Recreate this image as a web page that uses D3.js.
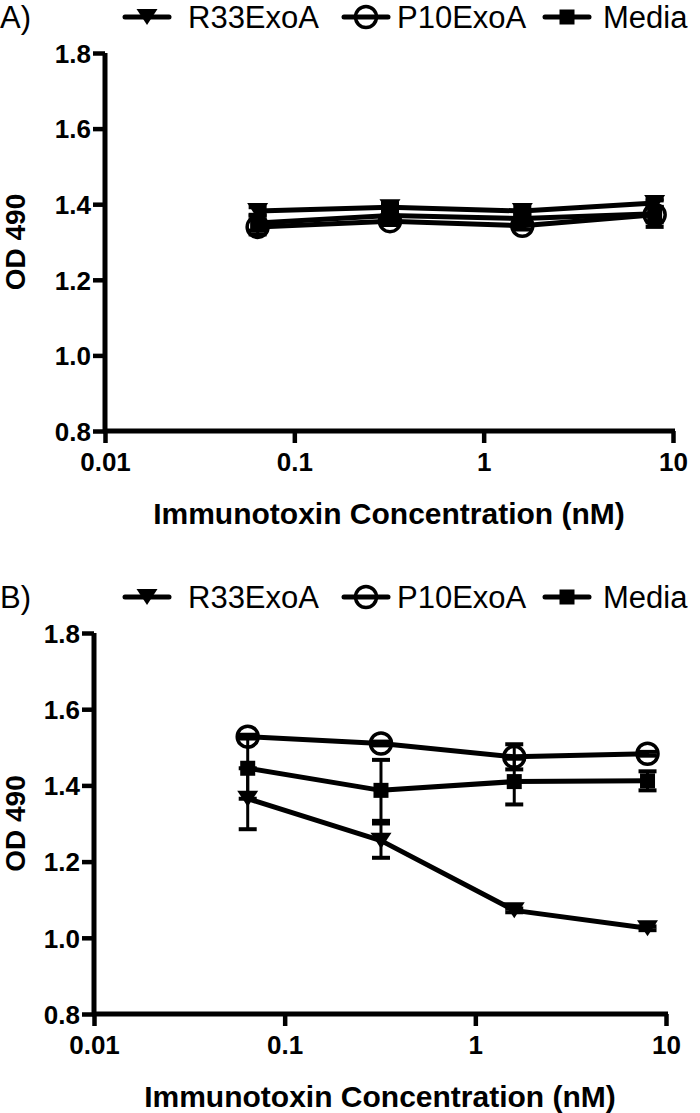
<!DOCTYPE html>
<html><head><meta charset="utf-8">
<script src="https://cdn.jsdelivr.net/npm/d3@7"></script>
<style>body{margin:0;background:#fff}svg{display:block}text{font-family:"Liberation Sans",Arial,sans-serif;fill:#000}</style>
</head><body>
<script>
const concentrations = [0.064, 0.32, 1.6, 8];
const xTicks = [0.01, 0.1, 1, 10];
const xTickLabels = ["0.01", "0.1", "1", "10"];
const yTicks = [0.8, 1.0, 1.2, 1.4, 1.6, 1.8];
const seriesNames = ["R33ExoA", "P10ExoA", "Media"];
const seriesMarkers = ["triangle", "circle", "square"];

const panelA_R33 = [1.382, 1.392, 1.382, 1.403];
const panelA_R33_err = [0.01, 0.01, 0.01, 0.01];
const panelA_P10 = [1.340, 1.355, 1.343, 1.372];
const panelA_P10_err = [0.02, 0.01, 0.01, 0.02];
const panelA_Media = [1.350, 1.370, 1.362, 1.375];
const panelA_Media_err = [0.02, 0.01, 0.01, 0.035];

const panelB_R33 = [1.365, 1.255, 1.072, 1.025];
const panelB_R33_err = [0.08, 0.045, 0.005, 0.005];
const panelB_P10 = [1.528, 1.510, 1.475, 1.483];
const panelB_P10_err = [0.005, 0.005, 0.033, 0.005];
const panelB_Media = [1.445, 1.387, 1.410, 1.412];
const panelB_Media_err = [0.08, 0.08, 0.06, 0.025];

const W = 700, H = 1113;
const svg = d3.select("body").append("svg").attr("width", W).attr("height", H);

const panels = [
  {label: "A)", top: 0, xr: [105, 673], yr: [431, 53],
   data: [[panelA_R33, panelA_R33_err], [panelA_P10, panelA_P10_err], [panelA_Media, panelA_Media_err]]},
  {label: "B)", top: 580, xr: [94, 666], yr: [1014, 633],
   data: [[panelB_R33, panelB_R33_err], [panelB_P10, panelB_P10_err], [panelB_Media, panelB_Media_err]]}
];

function drawMarker(g, type, cx, cy) {
  if (type === "triangle") {
    const w = 21, h = 16;
    g.append("path").attr("d", `M${cx - w/2},${cy - h/2}L${cx + w/2},${cy - h/2}L${cx},${cy + h/2}Z`).attr("fill", "#000");
  } else if (type === "circle") {
    g.append("circle").attr("cx", cx).attr("cy", cy).attr("r", 10.5).attr("fill", "none").attr("stroke", "#000").attr("stroke-width", 3.5);
  } else {
    g.append("rect").attr("x", cx - 7.5).attr("y", cy - 7.5).attr("width", 15).attr("height", 15).attr("fill", "#000");
  }
}

panels.forEach(p => {
  const g = svg.append("g");
  const x = d3.scaleLog().domain([0.01, 10]).range(p.xr);
  const y = d3.scaleLinear().domain([0.8, 1.8]).range(p.yr);
  const legY = p.top + 17;

  g.append("text").attr("x", 0).attr("y", legY + 11).attr("font-size", 31).text(p.label);

  const legSym = [147, 366, 567];
  const legText = [188, 397, 603];
  seriesNames.forEach((n, i) => {
    g.append("line").attr("x1", legSym[i] - 22).attr("x2", legSym[i] + 22).attr("y1", legY).attr("y2", legY)
      .attr("stroke", "#000").attr("stroke-width", 5).attr("stroke-linecap", "round");
    drawMarker(g, seriesMarkers[i], legSym[i], legY);
    g.append("text").attr("x", legText[i]).attr("y", legY + 11).attr("font-size", 31).text(n);
  });

  const yAxis = d3.axisLeft(y).tickValues(yTicks).tickFormat(d3.format(".1f")).tickSize(12).tickPadding(2);
  const ya = g.append("g").attr("transform", `translate(${p.xr[0]},0)`).call(yAxis);
  ya.select(".domain").attr("d", `M0,${p.yr[1]}V${p.yr[0] + 2}`).attr("stroke", "#000").attr("stroke-width", 5);
  ya.selectAll(".tick line").attr("stroke", "#000").attr("stroke-width", 4.5);
  ya.selectAll(".tick text").attr("font-size", 26).attr("font-weight", "bold").attr("font-family", "'Liberation Sans',Arial,sans-serif").attr("dy", "0.36em");

  const xAxis = d3.axisBottom(x).tickValues(xTicks).tickFormat((d, i) => xTickLabels[i]).tickSize(12).tickPadding(10);
  const xa = g.append("g").attr("transform", `translate(0,${p.yr[0]})`).call(xAxis);
  xa.select(".domain").attr("d", `M${p.xr[0] - 2},0H${p.xr[1] + 2}`).attr("stroke", "#000").attr("stroke-width", 5);
  xa.selectAll(".tick line").attr("stroke", "#000").attr("stroke-width", 4.5);
  xa.selectAll(".tick text").attr("font-size", 26).attr("font-weight", "bold").attr("font-family", "'Liberation Sans',Arial,sans-serif");

  g.append("text").attr("x", (p.xr[0] + p.xr[1]) / 2).attr("y", p.yr[0] + 93).attr("text-anchor", "middle")
    .attr("font-size", 30).attr("font-weight", "bold").text("Immunotoxin Concentration (nM)");
  g.append("text").attr("transform", `translate(25,${(p.yr[0] + p.yr[1]) / 2}) rotate(-90)`).attr("text-anchor", "middle")
    .attr("font-size", 28).attr("font-weight", "bold").text("OD 490");

  const line = d3.line().x((d, i) => x(concentrations[i])).y(d => y(d));
  p.data.forEach(([vals]) => {
    g.append("path").attr("d", line(vals)).attr("fill", "none").attr("stroke", "#000").attr("stroke-width", 5).attr("stroke-linejoin", "round");
  });
  p.data.forEach(([vals, errs]) => {
    vals.forEach((v, i) => {
      const cx = x(concentrations[i]);
      const y1 = y(v - errs[i]), y2 = y(v + errs[i]);
      g.append("line").attr("x1", cx).attr("x2", cx).attr("y1", y1).attr("y2", y2).attr("stroke", "#000").attr("stroke-width", 3);
      [y1, y2].forEach(yy => g.append("line").attr("x1", cx - 9).attr("x2", cx + 9).attr("y1", yy).attr("y2", yy).attr("stroke", "#000").attr("stroke-width", 4));
    });
  });
  p.data.forEach(([vals], si) => {
    vals.forEach((v, i) => drawMarker(g, seriesMarkers[si], x(concentrations[i]), y(v)));
  });
});
</script>
</body></html>
